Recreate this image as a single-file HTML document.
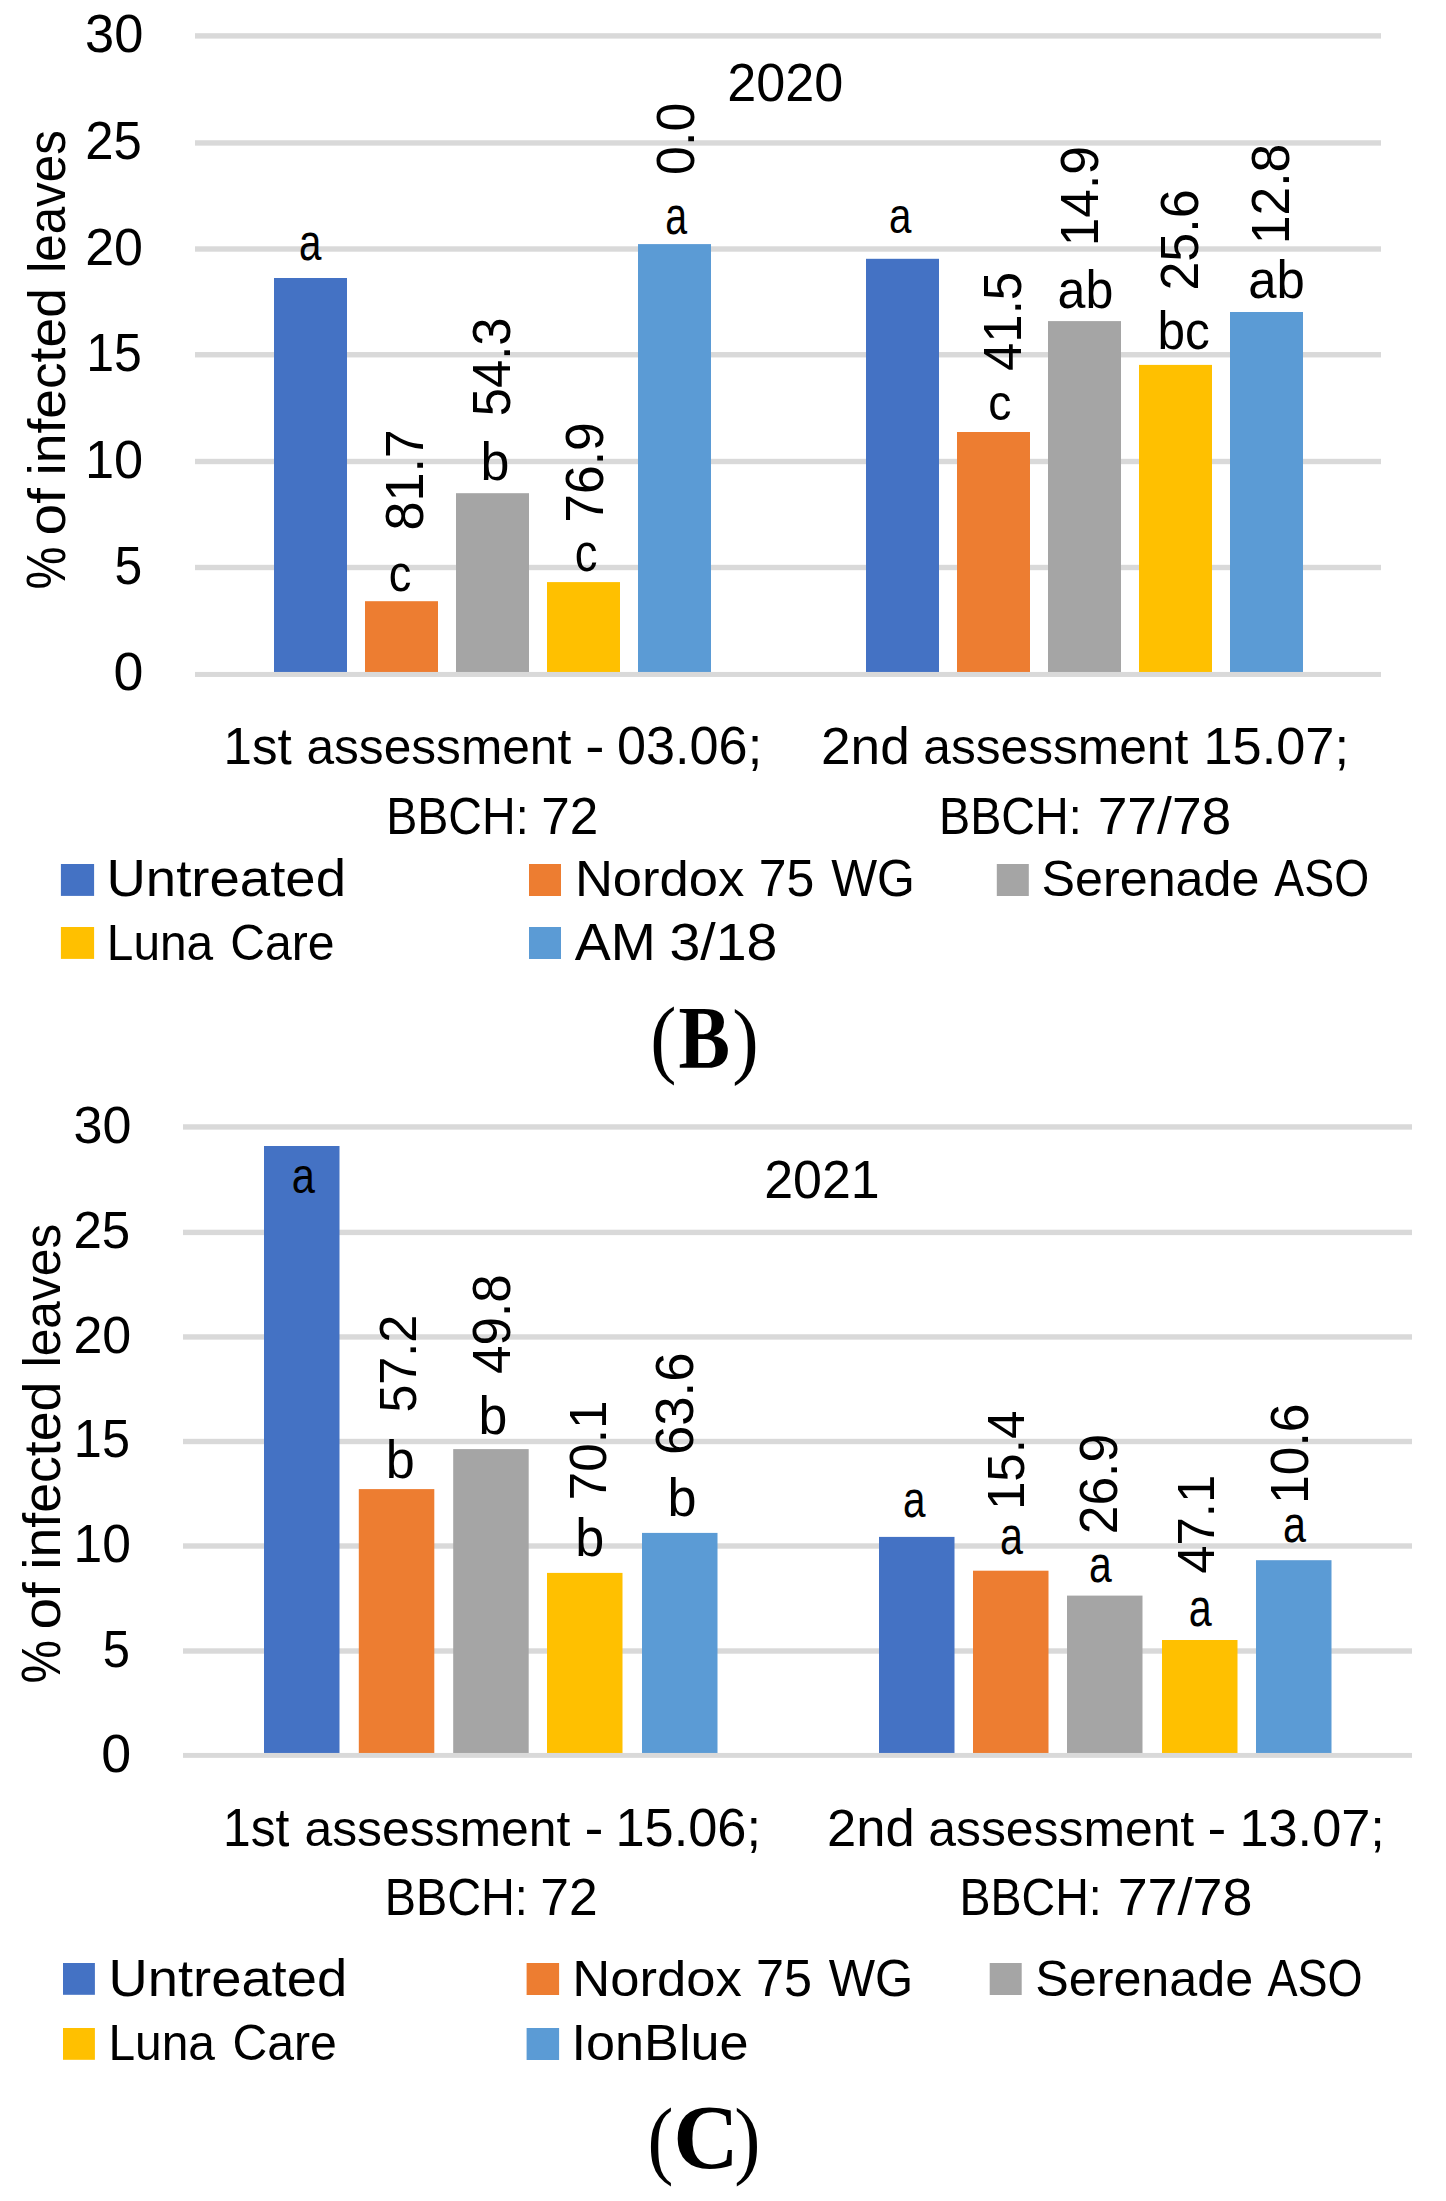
<!DOCTYPE html><html><head><meta charset="utf-8"><style>html,body{margin:0;padding:0;background:#fff;}svg{display:block;}text{font-family:"Liberation Sans", sans-serif;font-size:100px;fill:#000;font-kerning:none;font-variant-ligatures:none;}.sf{font-family:"Liberation Serif", serif;}.bd{font-weight:bold;}</style></head><body>
<svg width="1446" height="2201" viewBox="0 0 1446 2201">
<rect x="0" y="0" width="1446" height="2201" fill="#fff"/>
<rect x="195.00" y="33.20" width="1186.00" height="5.40" fill="#D9D9D9"/>
<rect x="195.00" y="140.25" width="1186.00" height="5.40" fill="#D9D9D9"/>
<rect x="195.00" y="246.30" width="1186.00" height="5.40" fill="#D9D9D9"/>
<rect x="195.00" y="352.05" width="1186.00" height="5.40" fill="#D9D9D9"/>
<rect x="195.00" y="458.80" width="1186.00" height="5.40" fill="#D9D9D9"/>
<rect x="195.00" y="564.80" width="1186.00" height="5.40" fill="#D9D9D9"/>
<rect x="274.00" y="278.00" width="73.00" height="396.00" fill="#4472C4"/>
<rect x="365.00" y="601.20" width="73.00" height="72.80" fill="#ED7D31"/>
<rect x="456.00" y="493.20" width="73.00" height="180.80" fill="#A5A5A5"/>
<rect x="547.00" y="582.10" width="73.00" height="91.90" fill="#FFC000"/>
<rect x="638.00" y="244.10" width="73.00" height="429.90" fill="#5B9BD5"/>
<rect x="866.00" y="258.80" width="73.00" height="415.20" fill="#4472C4"/>
<rect x="957.00" y="432.00" width="73.00" height="242.00" fill="#ED7D31"/>
<rect x="1048.00" y="321.10" width="73.00" height="352.90" fill="#A5A5A5"/>
<rect x="1139.00" y="364.90" width="73.00" height="309.10" fill="#FFC000"/>
<rect x="1230.00" y="312.00" width="73.00" height="362.00" fill="#5B9BD5"/>
<rect x="195.00" y="671.95" width="1186.00" height="5.00" fill="#D9D9D9"/>
<rect x="60.90" y="864.00" width="33.20" height="31.90" fill="#4472C4"/>
<rect x="60.90" y="927.00" width="33.20" height="31.90" fill="#FFC000"/>
<rect x="529.00" y="864.00" width="32.00" height="32.00" fill="#ED7D31"/>
<rect x="529.00" y="927.00" width="32.00" height="32.00" fill="#5B9BD5"/>
<rect x="996.80" y="864.00" width="32.00" height="32.00" fill="#A5A5A5"/>
<rect x="183.00" y="1124.25" width="1229.00" height="5.40" fill="#D9D9D9"/>
<rect x="183.00" y="1229.70" width="1229.00" height="5.40" fill="#D9D9D9"/>
<rect x="183.00" y="1334.25" width="1229.00" height="5.40" fill="#D9D9D9"/>
<rect x="183.00" y="1438.80" width="1229.00" height="5.40" fill="#D9D9D9"/>
<rect x="183.00" y="1543.30" width="1229.00" height="5.40" fill="#D9D9D9"/>
<rect x="183.00" y="1648.30" width="1229.00" height="5.40" fill="#D9D9D9"/>
<rect x="264.00" y="1146.00" width="75.50" height="609.00" fill="#4472C4"/>
<rect x="358.80" y="1489.10" width="75.50" height="265.90" fill="#ED7D31"/>
<rect x="453.20" y="1449.10" width="75.50" height="305.90" fill="#A5A5A5"/>
<rect x="547.00" y="1572.90" width="75.50" height="182.10" fill="#FFC000"/>
<rect x="642.00" y="1532.90" width="75.50" height="222.10" fill="#5B9BD5"/>
<rect x="879.00" y="1536.90" width="75.50" height="218.10" fill="#4472C4"/>
<rect x="973.00" y="1570.70" width="75.50" height="184.30" fill="#ED7D31"/>
<rect x="1067.00" y="1595.60" width="75.50" height="159.40" fill="#A5A5A5"/>
<rect x="1162.00" y="1640.00" width="75.50" height="115.00" fill="#FFC000"/>
<rect x="1256.00" y="1560.20" width="75.50" height="194.80" fill="#5B9BD5"/>
<rect x="183.00" y="1752.95" width="1229.00" height="4.90" fill="#D9D9D9"/>
<rect x="63.00" y="1963.00" width="31.90" height="31.80" fill="#4472C4"/>
<rect x="63.00" y="2028.00" width="31.90" height="31.80" fill="#FFC000"/>
<rect x="526.60" y="1963.00" width="32.50" height="32.00" fill="#ED7D31"/>
<rect x="526.60" y="2028.00" width="32.50" height="32.00" fill="#5B9BD5"/>
<rect x="989.70" y="1963.00" width="32.00" height="32.00" fill="#A5A5A5"/>
<text transform="translate(85.00,51.98) scale(0.5246,0.5297)">30</text>
<text transform="translate(85.24,158.98) scale(0.5088,0.5282)">25</text>
<text transform="translate(85.18,264.79) scale(0.5201,0.5268)">20</text>
<text transform="translate(86.19,371.28) scale(0.4999,0.5360)">15</text>
<text transform="translate(85.01,478.28) scale(0.5235,0.5339)">10</text>
<text transform="translate(114.61,584.28) scale(0.4978,0.5288)">5</text>
<text transform="translate(113.60,690.47) scale(0.5376,0.5395)">0</text>
<text transform="translate(65.00,589.53) rotate(-90) scale(0.4842,0.5523)">%</text>
<text transform="translate(65.00,535.39) rotate(-90) scale(0.5684,0.5207)">of</text>
<text transform="translate(65.00,475.17) rotate(-90) scale(0.5340,0.5173)">infected</text>
<text transform="translate(65.00,272.72) rotate(-90) scale(0.4933,0.5117)">leaves</text>
<text transform="translate(727.28,100.78) scale(0.5217,0.5282)">2020</text>
<text transform="translate(299.09,260.40) scale(0.4030,0.5129)">a</text>
<text transform="translate(388.78,591.30) scale(0.4523,0.5093)">c</text>
<text transform="translate(423.28,530.46) rotate(-90) scale(0.5204,0.5353)">81.7</text>
<text transform="translate(480.55,479.97) scale(0.5203,0.5392)">b</text>
<text transform="translate(510.37,416.13) rotate(-90) scale(0.5064,0.5395)">54.3</text>
<text transform="translate(574.77,571.30) scale(0.4546,0.5093)">c</text>
<text transform="translate(603.48,522.64) rotate(-90) scale(0.5158,0.5353)">76.9</text>
<text transform="translate(665.23,233.60) scale(0.3932,0.5147)">a</text>
<text transform="translate(694.47,174.93) rotate(-90) scale(0.5198,0.5381)">0.0</text>
<text transform="translate(888.89,233.21) scale(0.4030,0.5056)">a</text>
<text transform="translate(988.23,420.21) scale(0.4639,0.5056)">c</text>
<text transform="translate(1021.18,370.97) rotate(-90) scale(0.5092,0.5317)">41.5</text>
<text transform="translate(1057.47,307.88) scale(0.5020,0.5365)">ab</text>
<text transform="translate(1098.28,246.21) rotate(-90) scale(0.5135,0.5339)">14.9</text>
<text transform="translate(1157.51,349.07) scale(0.4952,0.5420)">bc</text>
<text transform="translate(1198.28,290.62) rotate(-90) scale(0.5210,0.5339)">25.6</text>
<text transform="translate(1248.24,297.97) scale(0.5088,0.5379)">ab</text>
<text transform="translate(1289.28,244.13) rotate(-90) scale(0.5162,0.5325)">12.8</text>
<text transform="translate(223.51,764.10) scale(0.5110,0.5254)">1st</text>
<text transform="translate(306.39,764.10) scale(0.4966,0.5043)">assessment</text>
<text transform="translate(585.33,764.10) scale(0.5775,0.5291)">-</text>
<text transform="translate(616.96,764.10) scale(0.5224,0.5291)">03.06;</text>
<text transform="translate(386.18,834.00) scale(0.4662,0.5233)">BBCH:</text>
<text transform="translate(541.37,834.00) scale(0.5125,0.5233)">72</text>
<text transform="translate(821.02,764.10) scale(0.5323,0.5196)">2nd</text>
<text transform="translate(923.29,764.10) scale(0.4966,0.4988)">assessment</text>
<text transform="translate(1203.41,764.10) scale(0.5237,0.5233)">15.07;</text>
<text transform="translate(939.07,834.00) scale(0.4669,0.5233)">BBCH:</text>
<text transform="translate(1097.66,834.00) scale(0.5341,0.5233)">77/78</text>
<text transform="translate(106.49,895.90) scale(0.5456,0.5131)">Untreated</text>
<text transform="translate(574.89,895.90) scale(0.5257,0.5068)">Nordox</text>
<text transform="translate(758.64,895.90) scale(0.4995,0.5233)">75</text>
<text transform="translate(831.19,895.90) scale(0.4864,0.5233)">WG</text>
<text transform="translate(1041.62,895.90) scale(0.5022,0.5036)">Serenade</text>
<text transform="translate(1274.31,895.90) scale(0.4491,0.5233)">ASO</text>
<text transform="translate(106.78,960.00) scale(0.4784,0.5027)">Luna</text>
<text transform="translate(230.36,960.00) scale(0.4811,0.5027)">Care</text>
<text transform="translate(574.79,960.00) scale(0.5402,0.5247)">AM</text>
<text transform="translate(669.39,960.00) scale(0.5550,0.5247)">3/18</text>
<text class="sf" transform="translate(650.34,1067.39) scale(0.7865,0.8602)">(</text>
<text class="sf bd" transform="translate(678.52,1066.64) scale(0.7726,0.8803)">B</text>
<text class="sf" transform="translate(732.34,1067.53) scale(0.7943,0.8536)">)</text>
<text transform="translate(73.62,1143.09) scale(0.5207,0.5226)">30</text>
<text transform="translate(73.43,1247.89) scale(0.5108,0.5254)">25</text>
<text transform="translate(73.38,1352.79) scale(0.5201,0.5254)">20</text>
<text transform="translate(73.86,1457.08) scale(0.5040,0.5274)">15</text>
<text transform="translate(73.47,1562.08) scale(0.5165,0.5282)">10</text>
<text transform="translate(102.74,1667.19) scale(0.4893,0.5260)">5</text>
<text transform="translate(101.30,1772.38) scale(0.5376,0.5339)">0</text>
<text transform="translate(60.00,1683.44) rotate(-90) scale(0.4891,0.5523)">%</text>
<text transform="translate(60.00,1629.59) rotate(-90) scale(0.5684,0.5221)">of</text>
<text transform="translate(60.00,1569.39) rotate(-90) scale(0.5360,0.5184)">infected</text>
<text transform="translate(60.00,1367.35) rotate(-90) scale(0.4969,0.5122)">leaves</text>
<text transform="translate(764.19,1197.78) scale(0.5194,0.5282)">2021</text>
<text transform="translate(291.63,1193.30) scale(0.4166,0.5074)">a</text>
<text transform="translate(385.63,1477.88) scale(0.5226,0.5365)">b</text>
<text transform="translate(416.09,1412.61) rotate(-90) scale(0.5027,0.5226)">57.2</text>
<text transform="translate(478.56,1433.88) scale(0.5181,0.5338)">b</text>
<text transform="translate(509.58,1373.97) rotate(-90) scale(0.5117,0.5353)">49.8</text>
<text transform="translate(575.33,1555.78) scale(0.5226,0.5365)">b</text>
<text transform="translate(605.79,1500.44) rotate(-90) scale(0.5146,0.5212)">70.1</text>
<text transform="translate(667.43,1515.68) scale(0.5226,0.5365)">b</text>
<text transform="translate(692.98,1454.97) rotate(-90) scale(0.5266,0.5325)">63.6</text>
<text transform="translate(902.88,1517.30) scale(0.4049,0.5147)">a</text>
<text transform="translate(999.95,1554.10) scale(0.4127,0.5111)">a</text>
<text transform="translate(1023.79,1510.10) rotate(-90) scale(0.5117,0.5260)">15.4</text>
<text transform="translate(1088.96,1582.10) scale(0.4088,0.5111)">a</text>
<text transform="translate(1117.18,1534.30) rotate(-90) scale(0.5161,0.5282)">26.9</text>
<text transform="translate(1188.65,1625.60) scale(0.4127,0.5111)">a</text>
<text transform="translate(1214.10,1573.77) rotate(-90) scale(0.5089,0.5247)">47.1</text>
<text transform="translate(1283.05,1541.59) scale(0.4127,0.5184)">a</text>
<text transform="translate(1308.47,1503.93) rotate(-90) scale(0.5153,0.5395)">10.6</text>
<text transform="translate(223.01,1846.20) scale(0.4982,0.5297)">1st</text>
<text transform="translate(304.48,1846.20) scale(0.4983,0.5085)">assessment</text>
<text transform="translate(584.57,1846.20) scale(0.5693,0.5334)">-</text>
<text transform="translate(615.41,1846.20) scale(0.5237,0.5334)">15.06;</text>
<text transform="translate(384.76,1914.60) scale(0.4683,0.5116)">BBCH:</text>
<text transform="translate(540.36,1914.60) scale(0.5155,0.5116)">72</text>
<text transform="translate(827.06,1845.90) scale(0.5258,0.5196)">2nd</text>
<text transform="translate(928.28,1845.90) scale(0.4985,0.4988)">assessment</text>
<text transform="translate(1207.39,1845.90) scale(0.5652,0.5233)">-</text>
<text transform="translate(1239.41,1845.90) scale(0.5233,0.5233)">13.07;</text>
<text transform="translate(959.48,1914.60) scale(0.4655,0.5116)">BBCH:</text>
<text transform="translate(1117.64,1914.60) scale(0.5387,0.5116)">77/78</text>
<text transform="translate(108.61,1995.90) scale(0.5431,0.5131)">Untreated</text>
<text transform="translate(572.29,1995.90) scale(0.5257,0.5068)">Nordox</text>
<text transform="translate(756.12,1995.90) scale(0.5034,0.5233)">75</text>
<text transform="translate(828.68,1995.90) scale(0.4907,0.5233)">WG</text>
<text transform="translate(1035.22,1995.90) scale(0.5027,0.5036)">Serenade</text>
<text transform="translate(1267.41,1995.90) scale(0.4505,0.5233)">ASO</text>
<text transform="translate(108.47,2059.80) scale(0.4789,0.4999)">Luna</text>
<text transform="translate(232.45,2059.80) scale(0.4821,0.4999)">Care</text>
<text transform="translate(571.59,2059.80) scale(0.5217,0.5077)">IonBlue</text>
<text class="sf" transform="translate(647.58,2167.62) scale(0.7787,0.8635)">(</text>
<text class="sf bd" transform="translate(673.37,2167.91) scale(0.9076,0.9094)">C</text>
<text class="sf" transform="translate(734.27,2167.62) scale(0.7865,0.8635)">)</text>
</svg></body></html>
